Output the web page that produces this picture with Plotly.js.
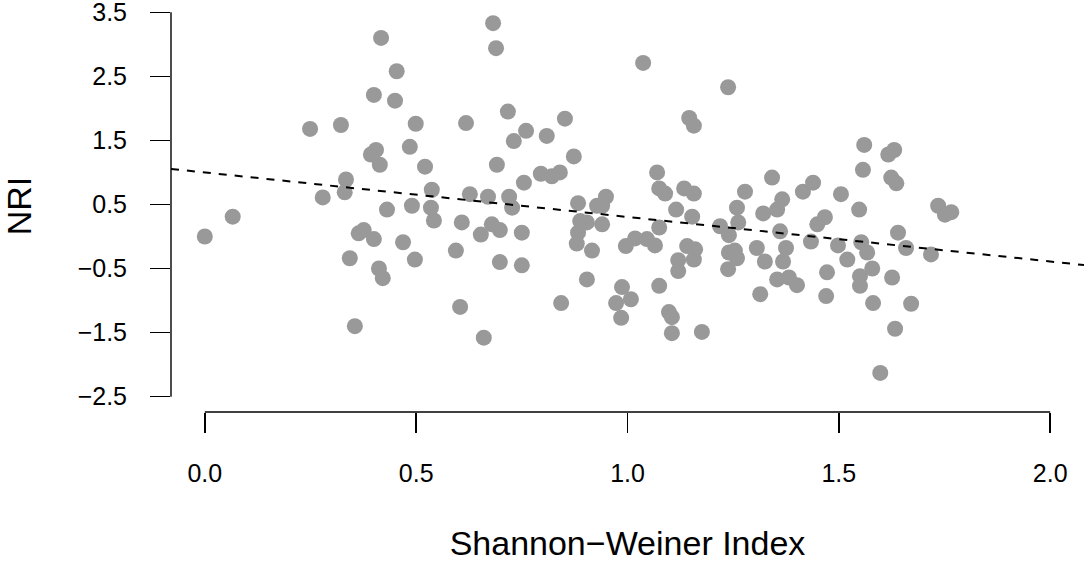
<!DOCTYPE html>
<html>
<head>
<meta charset="utf-8">
<script src="https://cdn.plot.ly/plotly-3.0.1.min.js"></script>
<style>
  html, body { margin: 0; padding: 0; background: #ffffff; }
  #chart { width: 1084px; height: 562px; }
</style>
</head>
<body>
<div id="chart"></div>
<script>
// Shannon-Weiner index (x) and NRI (y)
const shannon = [
  0.00, 0.066, 0.249, 0.279, 0.322, 0.334, 0.331, 0.343, 0.355, 0.364,
  0.376, 0.400, 0.400, 0.417, 0.450, 0.454, 0.393, 0.405, 0.414, 0.412,
  0.421, 0.431, 0.469, 0.485, 0.490, 0.499, 0.497, 0.521, 0.537, 0.535,
  0.542, 0.608, 0.618, 0.627, 0.670, 0.682, 0.689, 0.691, 0.717, 0.720,
  0.727, 0.731, 0.755, 0.760, 0.795, 0.809, 0.821, 0.840, 0.852, 0.873,
  0.883, 0.949, 0.940, 0.928, 0.888, 0.904, 0.940, 0.883, 0.880, 0.916,
  0.904, 0.843, 0.987, 1.008, 0.973, 0.985, 0.996, 1.018, 1.046, 1.037,
  1.070, 0.679, 0.653, 0.698, 0.750, 0.594, 0.698, 0.750, 0.604, 0.660,
  1.238, 1.146, 1.157, 1.560, 1.557, 1.075, 1.089, 1.134, 1.157, 1.278,
  1.342, 1.366, 1.415, 1.439, 1.505, 1.115, 1.153, 1.259, 1.321, 1.354,
  1.548, 1.075, 1.219, 1.262, 1.240, 1.065, 1.141, 1.160, 1.120, 1.157,
  1.120, 1.240, 1.254, 1.259, 1.238, 1.306, 1.325, 1.361, 1.375, 1.368,
  1.354, 1.382, 1.401, 1.434, 1.449, 1.467, 1.498, 1.520, 1.472, 1.470,
  1.553, 1.567, 1.579, 1.550, 1.550, 1.581, 1.075, 1.098, 1.105, 1.105,
  1.176, 1.598, 1.314, 1.617, 1.631, 1.624, 1.636, 1.735, 1.751, 1.766,
  1.640, 1.659, 1.718, 1.626, 1.671, 1.633
];
const nri = [
  0.00, 0.31, 1.68, 0.61, 1.74, 0.89, 0.69, -0.34, -1.40, 0.05,
  0.10, -0.04, 2.21, 3.10, 2.12, 2.58, 1.28, 1.35, 1.12, -0.50,
  -0.65, 0.42, -0.09, 1.40, 0.48, 1.76, -0.36, 1.09, 0.73, 0.45,
  0.25, 0.22, 1.77, 0.66, 0.62, 3.33, 2.94, 1.12, 1.95, 0.62,
  0.45, 1.49, 0.84, 1.65, 0.98, 1.57, 0.94, 1.00, 1.84, 1.25,
  0.52, 0.62, 0.48, 0.48, 0.24, 0.22, 0.19, 0.06, -0.11, -0.22,
  -0.67, -1.04, -0.79, -0.98, -1.04, -1.27, -0.15, -0.03, -0.04, 2.71,
  1.00, 0.19, 0.03, 0.10, 0.06, -0.22, -0.40, -0.45, -1.10, -1.58,
  2.33, 1.85, 1.73, 1.43, 1.04, 0.75, 0.67, 0.75, 0.67, 0.70,
  0.92, 0.58, 0.70, 0.84, 0.66, 0.42, 0.31, 0.45, 0.36, 0.42,
  0.42, 0.14, 0.16, 0.22, 0.02, -0.14, -0.15, -0.20, -0.37, -0.36,
  -0.54, -0.25, -0.22, -0.34, -0.51, -0.18, -0.39, 0.08, -0.18, -0.39,
  -0.67, -0.64, -0.76, -0.08, 0.19, 0.30, -0.14, -0.36, -0.56, -0.93,
  -0.09, -0.25, -0.50, -0.62, -0.77, -1.04, -0.77, -1.18, -1.26, -1.51,
  -1.49, -2.13, -0.90, 1.28, 1.35, 0.92, 0.83, 0.48, 0.34, 0.38,
  0.06, -0.18, -0.28, -0.64, -1.05, -1.44
];

// Fitted regression line
const fitIntercept = 1.0;
const fitSlope = -0.695;

// Axis ticks
const xTickVals = [0, 0.5, 1, 1.5, 2];
const xTickText = ["0.0", "0.5", "1.0", "1.5", "2.0"];
const yTickVals = [-2.5, -1.5, -0.5, 0.5, 1.5, 2.5, 3.5];
const yTickText = ["\u22122.5", "\u22121.5", "\u22120.5", "0.5", "1.5", "2.5", "3.5"];

const xRange = [-0.08, 2.08];
const yRange = [-2.74, 3.692];

const FONT = "Liberation Sans, Arial, Helvetica, sans-serif";

const fitX = [xRange[0], xRange[1]];
const fitY = fitX.map(v => fitIntercept + fitSlope * v);

const traces = [
  {
    type: "scatter", mode: "markers",
    x: shannon, y: nri,
    marker: { color: "#999999", size: 16, line: { width: 0 } },
    hoverinfo: "x+y", showlegend: false
  },
  {
    type: "scatter", mode: "lines",
    x: fitX, y: fitY,
    line: { color: "#000000", width: 2, dash: "8px,8px" },
    hoverinfo: "skip", showlegend: false
  }
];

// axis lines spanning first to last tick (R style)
const px = v => (v - xRange[0]) / (xRange[1] - xRange[0]);
const py = v => (v - yRange[0]) / (yRange[1] - yRange[0]);

const layout = {
  width: 1084, height: 562,
  margin: { l: 171, r: 0, t: 0, b: 150 },
  paper_bgcolor: "#ffffff", plot_bgcolor: "#ffffff",
  font: { family: FONT, color: "#000000", size: 25 },
  showlegend: false,
  xaxis: {
    range: xRange, showgrid: false, zeroline: false, showline: false,
    tickvals: xTickVals, ticktext: xTickText,
    ticks: "outside", ticklen: 20, tickwidth: 1.4, tickcolor: "#000000",
    ticklabelstandoff: 19, ticklabeloverflow: "allow",
    tickfont: { family: FONT, size: 25, color: "#000000" },
    title: { text: "Shannon\u2212Weiner Index", font: { family: FONT, size: 34, color: "#000000" }, standoff: 47 }
  },
  yaxis: {
    range: yRange, showgrid: false, zeroline: false, showline: false,
    tickvals: yTickVals, ticktext: yTickText,
    ticks: "outside", ticklen: 20, tickwidth: 1.4, tickcolor: "#000000",
    ticklabelstandoff: 18, ticklabeloverflow: "allow",
    tickfont: { family: FONT, size: 25, color: "#000000" },
    title: { text: "NRI", font: { family: FONT, size: 34, color: "#000000" }, standoff: 40 }
  },
  shapes: [
    { type: "line", xref: "paper", yref: "paper",
      x0: px(xTickVals[0]), x1: px(xTickVals[xTickVals.length - 1]), y0: 0, y1: 0,
      line: { color: "#000000", width: 1.4 } },
    { type: "line", xref: "paper", yref: "paper",
      x0: 0, x1: 0, y0: py(yTickVals[0]), y1: py(yTickVals[yTickVals.length - 1]),
      line: { color: "#000000", width: 1.4 } }
  ]
};

Plotly.newPlot("chart", traces, layout, { displayModeBar: false, staticPlot: true });
</script>
</body>
</html>
